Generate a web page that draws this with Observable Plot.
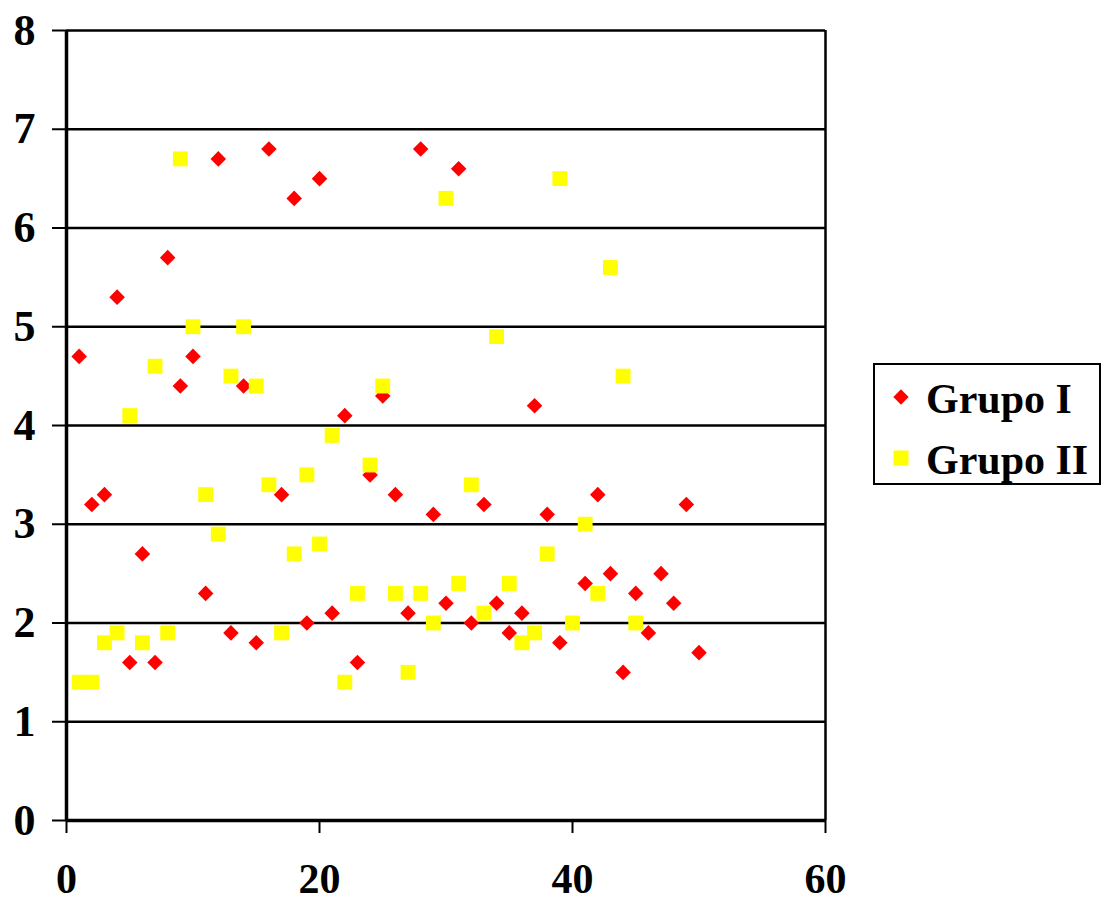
<!DOCTYPE html>
<html>
<head>
<meta charset="utf-8">
<script src="https://cdn.jsdelivr.net/npm/d3@7"></script>
<script src="https://cdn.jsdelivr.net/npm/@observablehq/plot@0.6"></script>
<style>
  html, body { margin: 0; padding: 0; background: #fff; }
  #wrap { position: relative; width: 1104px; height: 906px; overflow: hidden; font-family: "Liberation Serif", "Times New Roman", serif; }
  #chart { position: absolute; left: 0; top: 0; }
  #legend { position: absolute; left: 873px; top: 363px; }
</style>
</head>
<body>
<div id="wrap">
  <div id="chart"></div>
  <svg id="legend" width="230" height="124"></svg>
</div>
<script>
// ---- data ----
const seriesNames = ["Grupo I", "Grupo II"];
const grupoI = [4.7, 3.2, 3.3, 5.3, 1.6, 2.7, 1.6, 5.7, 4.4, 4.7,
                2.3, 6.7, 1.9, 4.4, 1.8, 6.8, 3.3, 6.3, 2.0, 6.5,
                2.1, 4.1, 1.6, 3.5, 4.3, 3.3, 2.1, 6.8, 3.1, 2.2,
                6.6, 2.0, 3.2, 2.2, 1.9, 2.1, 4.2, 3.1, 1.8, null,
                2.4, 3.3, 2.5, 1.5, 2.3, 1.9, 2.5, 2.2, 3.2, 1.7];
const grupoII = [1.4, 1.4, 1.8, 1.9, 4.1, 1.8, 4.6, 1.9, 6.7, 5.0,
                 3.3, 2.9, 4.5, 5.0, 4.4, 3.4, 1.9, 2.7, 3.5, 2.8,
                 3.9, 1.4, 2.3, 3.6, 4.4, 2.3, 1.5, 2.3, 2.0, 6.3,
                 2.4, 3.4, 2.1, 4.9, 2.4, 1.8, 1.9, 2.7, 6.5, 2.0,
                 3.0, 2.3, 5.6, 4.5, 2.0];
const xTicks = [0, 20, 40, 60];
const yTicks = [0, 1, 2, 3, 4, 5, 6, 7, 8];
const colors = ["#FF0000", "#FFFF00"];

const rowsI = grupoI.map((v, i) => ({x: i + 1, y: v})).filter(d => d.y != null);
const rowsII = grupoII.map((v, i) => ({x: i + 1, y: v})).filter(d => d.y != null);

const font = '"Liberation Serif", "Times New Roman", serif';

const chart = Plot.plot({
  width: 860,
  height: 906,
  marginLeft: 66,
  marginRight: 35,
  marginTop: 30,
  marginBottom: 86,
  style: { fontFamily: font, background: "transparent", overflow: "visible" },
  x: { domain: [0, 60], ticks: xTicks },
  y: { domain: [0, 8], ticks: yTicks },
  marks: [
    Plot.ruleY(yTicks.filter(t => t > 0), { stroke: "#000", strokeWidth: 2.5 }),
    Plot.ruleX([60], { stroke: "#000", strokeWidth: 2.5 }),
    Plot.ruleY([0], { stroke: "#000", strokeWidth: 3.5 }),
    Plot.ruleX([0], { stroke: "#000", strokeWidth: 3.5 }),
    Plot.axisY({ ticks: yTicks, tickSize: 14, tickPadding: 17, tickFormat: d => String(d),
                 fontSize: 44, fontWeight: "bold", stroke: "#000", strokeWidth: 2, color: "#000", label: null }),
    Plot.axisX({ ticks: xTicks, tickSize: 13, tickPadding: 30, tickFormat: d => String(d),
                 fontSize: 42, fontWeight: "bold", stroke: "#000", strokeWidth: 2, color: "#000", label: null }),
    Plot.dot(rowsI, { x: "x", y: "y", symbol: "diamond2", r: 7, fill: colors[0], stroke: "none" }),
    Plot.dot(rowsII, { x: "x", y: "y", symbol: "square", r: 8.4, fill: colors[1], stroke: "none" })
  ]
});
chart.querySelectorAll("text").forEach(t => t.setAttribute("fill", "#000"));
document.getElementById("chart").appendChild(chart);

// ---- legend ----
const lg = d3.select("#legend");
lg.append("rect").attr("x", 1).attr("y", 1).attr("width", 226).attr("height", 120)
  .attr("fill", "#fff").attr("stroke", "#000").attr("stroke-width", 2);
const rowsY = [34, 95];
seriesNames.forEach((name, i) => {
  const cy = rowsY[i];
  if (i === 0) {
    lg.append("path").attr("d", d3.symbol(d3.symbolDiamond2, 150)())
      .attr("transform", `translate(28,${cy})`).attr("fill", colors[i]);
  } else {
    lg.append("rect").attr("x", 28 - 7.5).attr("y", cy - 7.5).attr("width", 15).attr("height", 15)
      .attr("fill", colors[i]);
  }
  lg.append("text").attr("x", 53).attr("y", cy + 16)
    .attr("font-family", font).attr("font-weight", "bold").attr("font-size", 42)
    .attr("fill", "#000").text(name);
});
</script>
</body>
</html>
